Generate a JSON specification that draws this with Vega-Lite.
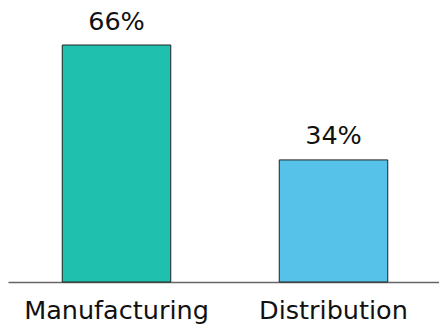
{
  "$schema": "https://vega.github.io/schema/vega-lite/v6.json",
  "autosize": "none",
  "width": 434,
  "height": 237,
  "padding": {"left": 8, "top": 45, "right": 0, "bottom": 46},
  "background": "white",
  "config": {"view": {"stroke": null}},
  "data": {"values": [
    {"category": "Manufacturing", "share": 66, "label": "66%"},
    {"category": "Distribution", "share": 34, "label": "34%"}
  ]},
  "encoding": {
    "x": {"field": "category", "type": "nominal", "sort": null,
      "scale": {"paddingInner": 0.5, "paddingOuter": 0.25},
      "axis": {"title": null, "labelAngle": 0, "ticks": false, "domainColor": "#666666", "domainWidth": 1.5,
        "labelFont": "DejaVu Sans", "labelFontSize": 25.5, "labelColor": "#111111", "labelPadding": 16, "labelBaseline": "top", "labelLimit": 0}},
    "y": {"field": "share", "type": "quantitative", "scale": {"domain": [0, 66], "nice": false}, "axis": null}
  },
  "layer": [
    {"mark": {"type": "bar", "stroke": "#222222", "strokeWidth": 1},
     "encoding": {"color": {"field": "category", "type": "nominal", "sort": null,
       "scale": {"range": ["#20C0AF", "#56C2E9"]}, "legend": null}}},
    {"mark": {"type": "text", "baseline": "alphabetic", "dy": -15.5, "font": "DejaVu Sans", "fontSize": 25.5, "color": "#111111"},
     "encoding": {"text": {"field": "label"}}}
  ]
}
